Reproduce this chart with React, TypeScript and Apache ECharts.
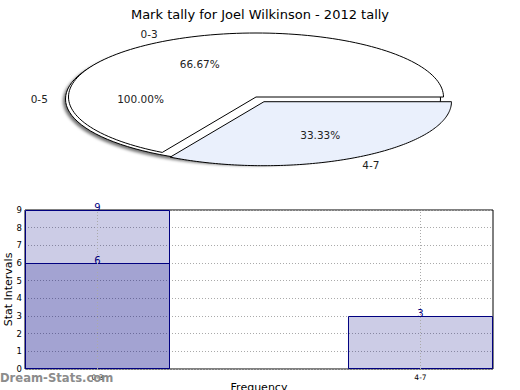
import React, { useEffect, useRef } from "react";
import * as echarts from "echarts";

const TITLE = "Mark tally for Joel Wilkinson - 2012 tally";

// Pie data
const outerPieLabels = ["0-5"];
const outerPieValues = [9];
const pieLabels = ["0-3", "4-7"];
const pieValues = [6, 3];
const pieExplode = [0, 0.085];

// Bar data
const barCategories = ["0-3", "4-7"];
const barTotals = [9, 3];
const barOverlay: (number | null)[] = [6, null];

const FONT = '"DejaVu Sans", sans-serif';
const RX = 187.5;
const RY = 64;

function makePieRender(
  labels: string[],
  values: number[],
  explode: number[],
  cx: number,
  cy: number,
  fills: string[],
  baseZ: number,
  shadow: boolean
) {
  const total = values.reduce((a, b) => a + b, 0);
  return (params: any) => {
    const i = params.dataIndex;
    const before = values.slice(0, i).reduce((a, b) => a + b, 0);
    const a0 = (before / total) * Math.PI * 2;
    const a1 = ((before + values[i]) / total) * Math.PI * 2;
    const mid = (a0 + a1) / 2;
    const ex = explode[i] || 0;
    const ox = cx + ex * RX * Math.cos(mid);
    const oy = cy - ex * RY * Math.sin(mid);
    const full = values[i] === total;
    const pts: number[][] = [];
    if (!full) pts.push([ox, oy]);
    const N = 120;
    for (let k = 0; k <= N; k++) {
      const a = a0 + ((a1 - a0) * k) / N;
      pts.push([ox + RX * Math.cos(a), oy - RY * Math.sin(a)]);
    }
    const pct = ((values[i] / total) * 100).toFixed(2) + "%";
    const style: any = {
      fill: fills[i % fills.length],
      stroke: "#000",
      lineWidth: 1,
    };
    if (shadow) {
      style.shadowBlur = 3;
      style.shadowOffsetX = -2;
      style.shadowOffsetY = 2;
      style.shadowColor = "rgba(0,0,0,0.55)";
    }
    return {
      type: "group",
      children: [
        {
          type: "polygon",
          z2: baseZ + i,
          shape: { points: pts },
          style,
        },
        {
          type: "text",
          z2: 50,
          x: ox + 0.6 * RX * Math.cos(mid),
          y: oy - 0.6 * RY * Math.sin(mid),
          style: {
            text: pct,
            font: `10.5px ${FONT}`,
            fill: "#222",
            align: "center",
            verticalAlign: "middle",
          },
        },
        {
          type: "text",
          z2: 50,
          x: ox + 1.14 * RX * Math.cos(mid),
          y: oy - 1.14 * RY * Math.sin(mid),
          style: {
            text: labels[i],
            font: `10.5px ${FONT}`,
            fill: "#222",
            align: "center",
            verticalAlign: "middle",
          },
        },
      ],
    };
  };
}

export default function App() {
  const ref = useRef<HTMLDivElement>(null);

  useEffect(() => {
    document.body.style.margin = "0";
    if (!ref.current) return;
    const chart = echarts.init(ref.current, null, { renderer: "svg" });

    const dotted = { color: "#aaa", type: [1, 2] as any, width: 1 };

    const barLabel = {
      show: true,
      position: "top",
      distance: -2,
      color: "#000080",
      fontSize: 10,
      fontFamily: FONT,
      formatter: (p: any) => String(p.value[1]),
    };

    chart.setOption({
      animation: false,
      title: {
        text: TITLE,
        left: "center",
        top: 3,
        textStyle: {
          fontSize: 13,
          fontWeight: "normal",
          color: "#000",
          fontFamily: FONT,
        },
      },
      grid: {
        left: 25,
        right: 27,
        top: 210,
        bottom: 21,
        show: true,
        borderColor: "#000",
        borderWidth: 1,
        backgroundColor: "transparent",
        containLabel: false,
        outerBoundsMode: "none",
      },
      xAxis: {
        type: "value",
        min: -0.2245,
        max: 1.2245,
        axisLine: { show: false },
        axisTick: { show: false },
        splitLine: { show: false },
        axisLabel: {
          customValues: [0, 1],
          formatter: (v: number) => barCategories[Math.round(v)] ?? "",
          fontSize: 7.5,
          color: "#000",
          margin: 4,
          fontFamily: FONT,
        },
        name: "Frequency",
        nameLocation: "middle",
        nameGap: 13,
        nameMoveOverlap: false,
        nameTextStyle: { fontSize: 11, color: "#000", fontFamily: FONT },
      },
      yAxis: {
        type: "value",
        min: 0,
        max: 9,
        interval: 1,
        axisLine: { show: false },
        axisTick: { show: false },
        splitLine: { show: true, lineStyle: dotted },
        axisLabel: { fontSize: 8.5, color: "#000", margin: 3, fontFamily: FONT },
        name: "Stat Intervals",
        nameLocation: "middle",
        nameGap: 11,
        nameRotate: 90,
        nameMoveOverlap: false,
        nameTextStyle: { fontSize: 11, color: "#000", fontFamily: FONT },
      },
      graphic: [
        {
          type: "text",
          left: 0,
          top: 372,
          z: 100,
          style: {
            text: "Dream-Stats.com",
            font: `bold 11.6px ${FONT}`,
            fill: "#8c8c8c",
          },
        },
      ],
      series: [
        {
          type: "custom",
          coordinateSystem: "none",
          data: outerPieValues,
          renderItem: makePieRender(
            outerPieLabels,
            outerPieValues,
            [0],
            253,
            99,
            ["#ffffff"],
            0,
            true
          ),
          silent: true,
        },
        {
          type: "custom",
          coordinateSystem: "none",
          data: pieValues,
          renderItem: makePieRender(
            pieLabels,
            pieValues,
            pieExplode,
            256,
            97,
            ["#ffffff", "#eaf0fc"],
            5,
            false
          ),
          silent: true,
        },
        {
          type: "bar",
          data: barTotals.map((v, i) => [i, v]),
          barWidth: 145,
          barGap: "-100%",
          itemStyle: {
            color: "rgba(0,0,128,0.2)",
            borderColor: "#000080",
            borderWidth: 1,
          },
          label: barLabel,
          markLine: {
            silent: true,
            symbol: ["none", "none"],
            label: { show: false },
            lineStyle: dotted,
            data: barCategories.map((_, i) => ({ xAxis: i })),
          },
        },
        {
          type: "bar",
          data: barOverlay
            .map((v, i) => (v == null ? null : [i, v]))
            .filter((d) => d !== null),
          barWidth: 145,
          barGap: "-100%",
          itemStyle: {
            color: "rgba(0,0,128,0.2)",
            borderColor: "#000080",
            borderWidth: 1,
          },
          label: barLabel,
        },
      ],
    });

    return () => {
      chart.dispose();
    };
  }, []);

  return <div ref={ref} style={{ width: 520, height: 390 }} />;
}
